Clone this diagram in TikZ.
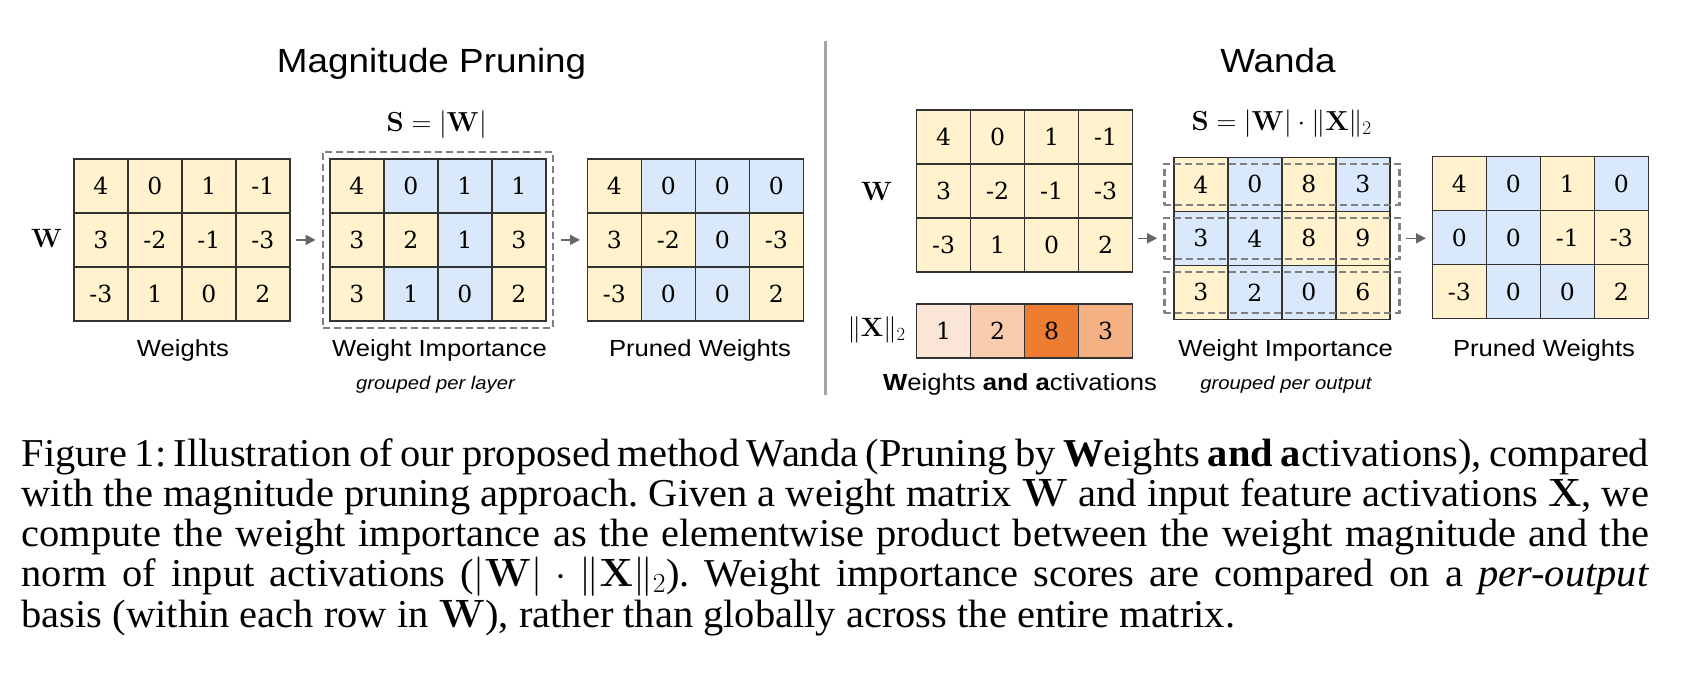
\RequirePackage{fix-cm}
\documentclass[tikz,border=0pt]{standalone}
\usepackage[no-math]{fontspec}
\setmainfont{Liberation Serif}
\newfontfamily\labfont[FakeStretch=1.1]{Liberation Sans}
\newfontfamily\numfont{DejaVu Serif}
\newfontfamily\capfont[FakeStretch=1.025]{Liberation Serif}
\usetikzlibrary{fit,calc,arrows.meta}
\definecolor{cy}{HTML}{FFF2CC}
\definecolor{cb}{HTML}{DAE8FC}
\definecolor{cxa}{HTML}{FBE5D6}
\definecolor{cxb}{HTML}{F8CBAD}
\definecolor{cxc}{HTML}{ED7D31}
\definecolor{cxd}{HTML}{F4B183}
\definecolor{bord}{HTML}{333333}
\definecolor{arrc}{HTML}{666666}
\definecolor{dashc}{HTML}{808080}
\definecolor{divc}{HTML}{A6A6A6}
\tikzset{
  cell/.style={draw=bord, line width=1.2pt, minimum width=54pt, minimum height=54pt,
    inner sep=0pt, anchor=north west, font=\numfont\fontsize{23.5}{23.5}\selectfont},
  lab/.style={font=\labfont\fontsize{23.3}{28}\selectfont, inner sep=0pt, anchor=base},
  sublab/.style={font=\labfont\itshape\fontsize{18.4}{22}\selectfont, inner sep=0pt, anchor=base},
  ttl/.style={font=\labfont\fontsize{33.5}{40}\selectfont, inner sep=0pt, anchor=base},
  mlab/.style={font=\fontsize{26.5}{30}\selectfont, inner sep=0pt},
  fml/.style={font=\fontsize{27.5}{32}\selectfont, inner sep=0pt},
  dbox/.style={draw=dashc, line width=2.4pt, dash pattern=on 7pt off 4pt},
  arr/.style={draw=arrc, line width=1.5pt, -{Triangle[length=10pt,width=10pt]}},
  divider/.style={draw=divc, line width=2.6pt}
}
\newcommand{\cellgrid}[4]{%
  \foreach \v/\c [count=\k from 0] in {#4}{%
    \pgfmathtruncatemacro{\cgr}{\k/4}%
    \pgfmathtruncatemacro{\cgc}{mod(\k,4)}%
    \node[cell, fill=\c] (#1-\cgr-\cgc) at ({#2+54*\cgc},{#3+54*\cgr}) {\v};%
  }}
\begin{document}
\begin{tikzpicture}[x=1pt,y=-1pt]
\useasboundingbox (0,0) rectangle (1687,689);

% ---------- Magnitude pruning ----------
\node[ttl] (t1) at (431.6,72) {Magnitude Pruning};
\cellgrid{mw}{73.3}{158.3}{4/cy,0/cy,1/cy,-1/cy,3/cy,-2/cy,-1/cy,-3/cy,-3/cy,1/cy,0/cy,2/cy}
\cellgrid{ms}{329.3}{158.3}{4/cy,0/cb,1/cb,1/cb,3/cy,2/cy,1/cb,3/cy,3/cy,1/cb,0/cb,2/cy}
\cellgrid{mp}{586.7}{158.3}{4/cy,0/cb,0/cb,0/cb,3/cy,-2/cy,0/cb,-3/cy,-3/cy,0/cb,0/cb,2/cy}
\node[dbox, fit=(ms-0-0)(ms-2-3), inner sep=6.5pt] (msbox) {};
\node[mlab] (wl1) at (46.7,238.3) {$\mathbf{W}$};
\node[fml] (f1) at (436.7,125) {$\mathbf{S}=|\mathbf{W}|$};
\draw[arr, shorten <=5pt, shorten >=6pt] (mw-1-3.east) -- (msbox.west);
\draw[arr, shorten <=6.6pt, shorten >=6.7pt] (msbox.east) -- (mp-1-0.west);
\node[lab] (l1) at (183,356.7) {Weights};
\node[lab] (l2) at (439.5,356.7) {Weight Importance};
\node[sublab] (l3) at (435.5,389) {grouped per layer};
\node[lab] (l4) at (700,356.7) {Pruned Weights};

% ---------- divider ----------
\coordinate (dtop) at (825.7,41);
\coordinate (dbot) at (825.7,395);
\draw[divider] (dtop) -- (dbot);

% ---------- Wanda ----------
\node[ttl] (t2) at (1278,72) {Wanda};
\cellgrid{ww}{916}{109.3}{4/cy,0/cy,1/cy,-1/cy,3/cy,-2/cy,-1/cy,-3/cy,-3/cy,1/cy,0/cy,2/cy}
\cellgrid{wx}{916}{303.3}{1/cxa,2/cxb,8/cxc,3/cxd}
\cellgrid{ws}{1173.3}{156.7}{4/cy,0/cb,8/cy,3/cb,3/cb,4/cb,8/cy,9/cy,3/cy,2/cb,0/cb,6/cy}
\cellgrid{wp}{1431.7}{156}{4/cy,0/cb,1/cy,0/cb,0/cb,0/cb,-1/cy,-3/cy,-3/cy,0/cb,0/cb,2/cy}
\foreach \r in {0,1,2}{
  \coordinate (wsa\r) at ($(ws-\r-0.north west)+(-9,7)$);
  \coordinate (wsb\r) at ($(ws-\r-3.south east)+(9,-7)$);
  \node[dbox, inner sep=0pt, fit={(wsa\r)(wsb\r)}] (wsr\r) {};
}
\node[mlab] (wl2) at (876.7,191.7) {$\mathbf{W}$};
\node[mlab] (xl) at (876.7,330) {$\|\mathbf{X}\|_2$};
\node[fml] (f2) at (1281.7,123.3) {$\mathbf{S}=|\mathbf{W}|\cdot\|\mathbf{X}\|_2$};
\draw[arr, shorten <=5pt, shorten >=6pt] (ww-2-3.east |- wsr1.west) -- (wsr1.west);
\draw[arr, shorten <=5.6pt, shorten >=5.7pt] (wsr1.east) -- (wp-1-0.west |- wsr1.east);
\node[lab] (l5) at (1020,390) {\textbf{W}eights \textbf{and a}ctivations};
\node[lab] (l6) at (1285.7,356.7) {Weight Importance};
\node[sublab] (l7) at (1286,389) {grouped per output};
\node[lab] (l8) at (1544,356.7) {Pruned Weights};

% ---------- caption ----------
\node[anchor=base west, inner sep=0pt] (cap) at (21.5,466) {\capfont\fontsize{39.5}{40.3}\selectfont\frenchspacing
\vtop{\hsize=1627.5pt \baselineskip=40.3pt
\hbox to\hsize{Figure 1: Illustration of our proposed method Wanda (Pruning by \textbf{W}eights \textbf{and a}ctivations), compared}
\hbox to\hsize{with the magnitude pruning approach. Given a weight matrix $\mathbf{W}$ and input feature activations $\mathbf{X}$, we}
\hbox to\hsize{compute the weight importance as the elementwise product between the weight magnitude and the}
\hbox to\hsize{norm of input activations ($|\mathbf{W}|\cdot\|\mathbf{X}\|_2$). Weight importance scores are compared on a \textit{per-output}}
\hbox{basis (within each row in $\mathbf{W}$), rather than globally across the entire matrix.}}};
\end{tikzpicture}
\end{document}
